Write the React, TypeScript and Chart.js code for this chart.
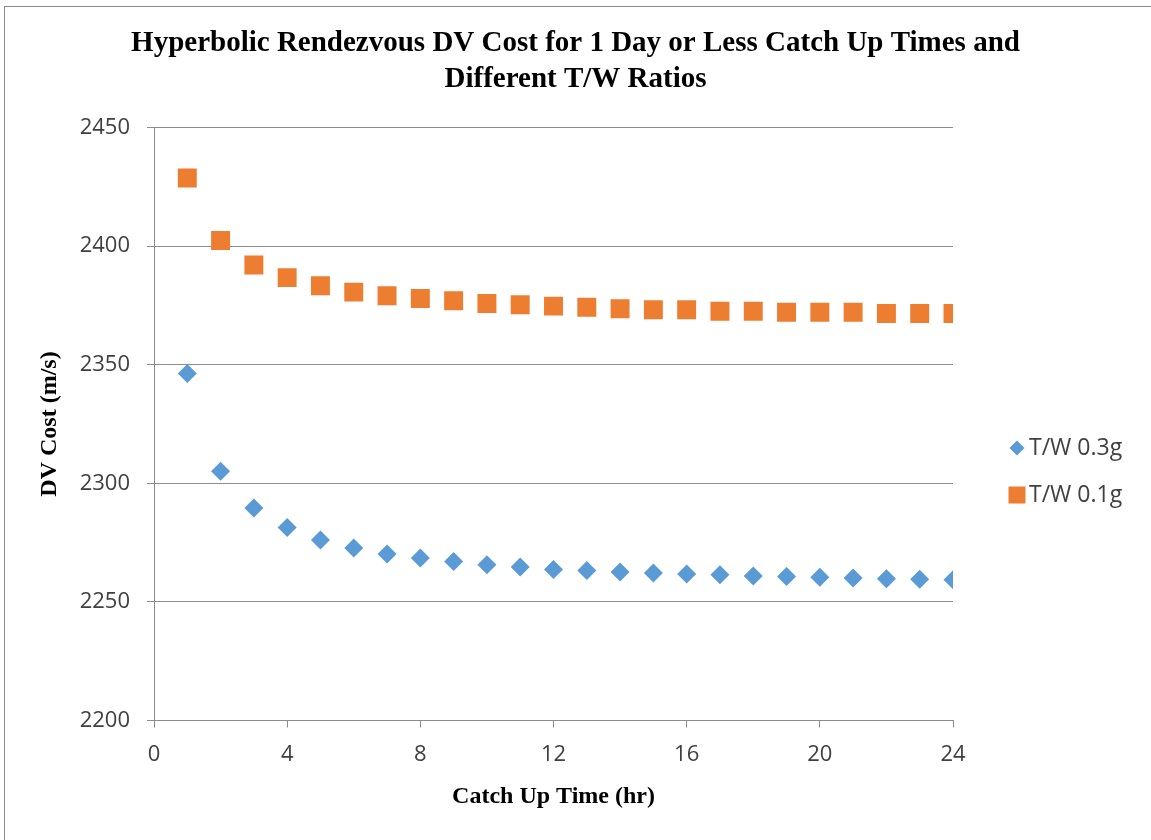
import React, { useEffect, useRef } from "react";
import { Chart, registerables } from "chart.js";

Chart.register(...registerables);

const catchUpHours = [1, 2, 3, 4, 5, 6, 7, 8, 9, 10, 11, 12, 13, 14, 15, 16, 17, 18, 19, 20, 21, 22, 23, 24];
const costTW03 = [2346.3, 2305.1, 2289.6, 2281.4, 2276.1, 2272.7, 2270.2, 2268.5, 2267.0, 2265.7, 2264.7, 2263.7, 2263.2, 2262.6, 2262.2, 2261.8, 2261.4, 2260.9, 2260.7, 2260.4, 2260.1, 2259.8, 2259.6, 2259.3];
const costTW01 = [2428.7, 2402.4, 2392.0, 2386.7, 2383.3, 2380.6, 2379.1, 2377.9, 2377.0, 2375.8, 2375.3, 2374.7, 2374.2, 2373.6, 2373.2, 2373.2, 2372.5, 2372.5, 2372.1, 2372.1, 2372.1, 2371.6, 2371.6, 2371.6];
const seriesLabels = ["T/W 0.3g", "T/W 0.1g"];
const titleLines = ["Hyperbolic Rendezvous DV Cost for 1 Day or Less Catch Up Times and", "Different T/W Ratios"];
const xTitle = "Catch Up Time (hr)";
const yTitle = "DV Cost (m/s)";

const BLUE = "#5B9BD5";
const ORANGE = "#ED7D31";
const GRID = "#8c8c8c";
const TEXT = "#404040";
const SANS = "'Open Sans', sans-serif";
const SERIF = "'Liberation Serif', 'Times New Roman', serif";

const frame = {
  id: "frame",
  beforeDraw(chart: any) {
    const ctx = chart.ctx;
    ctx.save();
    ctx.fillStyle = "#ffffff";
    ctx.fillRect(0, 0, chart.width, chart.height);
    ctx.strokeStyle = "#8a8a8a";
    ctx.lineWidth = 1;
    ctx.strokeRect(4.5, 6.5, chart.width + 10, chart.height + 10);
    ctx.restore();
  },
};

const sideLegend = {
  id: "sideLegend",
  afterDraw(chart: any) {
    const ctx = chart.ctx;
    const area = chart.chartArea;
    const x0 = area.right + 64;
    const y0 = area.top + 320.5;
    const gap = 47;
    ctx.save();
    chart.data.datasets.forEach((ds: any, i: number) => {
      const cy = y0 + i * gap;
      ctx.fillStyle = ds.backgroundColor;
      ctx.beginPath();
      if (ds.pointStyle === "rectRot") {
        const r = 7.5;
        ctx.moveTo(x0, cy - r);
        ctx.lineTo(x0 + r, cy);
        ctx.lineTo(x0, cy + r);
        ctx.lineTo(x0 - r, cy);
        ctx.closePath();
      } else {
        const s = 8.5;
        ctx.rect(x0 - s, cy - s, 2 * s, 2 * s);
      }
      ctx.fill();
      ctx.fillStyle = TEXT;
      ctx.font = `23px ${SANS}`;
      ctx.textAlign = "left";
      ctx.textBaseline = "middle";
      ctx.fillText(ds.label, x0 + 12, cy);
    });
    ctx.restore();
  },
};

export default function App() {
  const ref = useRef<HTMLCanvasElement | null>(null);

  useEffect(() => {
    if (!ref.current) return;
    const chart = new Chart(ref.current, {
      type: "scatter",
      data: {
        datasets: [
          {
            label: seriesLabels[0],
            data: catchUpHours.map((h, i) => ({ x: h, y: costTW03[i] })),
            backgroundColor: BLUE,
            borderColor: BLUE,
            borderWidth: 0,
            pointStyle: "rectRot",
            pointRadius: 9.5,
            pointHoverRadius: 9.5,
          },
          {
            label: seriesLabels[1],
            data: catchUpHours.map((h, i) => ({ x: h, y: costTW01[i] })),
            backgroundColor: ORANGE,
            borderColor: ORANGE,
            borderWidth: 0,
            pointStyle: "rect",
            pointRadius: 13.4,
            pointHoverRadius: 13.4,
          },
        ],
      },
      options: {
        animation: false,
        responsive: false,
        maintainAspectRatio: false,
        events: [],
        layout: { padding: { left: 0, right: 0, top: 0, bottom: 0 } },
        plugins: {
          legend: { display: false },
          tooltip: { enabled: false },
          title: {
            display: true,
            text: titleLines,
            color: "#000000",
            font: { family: SERIF, size: 29, weight: "bold", lineHeight: 36 / 29 },
            padding: { top: 26, bottom: 29.5 },
          },
        },
        scales: {
          x: {
            type: "linear",
            min: 0,
            max: 24,
            afterFit: (s: any) => { s.height = 119.5; },
            ticks: {
              stepSize: 4,
              color: TEXT,
              font: { family: SANS, size: 22 },
              padding: 14,
              callback: (v: any) => String(v),
            },
            grid: { drawOnChartArea: false, drawTicks: true, tickLength: 7, color: GRID },
            border: { display: true, color: GRID, width: 1 },
            title: {
              display: true,
              text: xTitle,
              color: "#000000",
              font: { family: SERIF, size: 24, weight: "bold", lineHeight: 1.2 },
              padding: { top: 0, bottom: 28.6 },
            },
          },
          y: {
            type: "linear",
            position: "left",
            min: 2200,
            max: 2450,
            afterFit: (s: any) => { s.width = 154; },
            ticks: {
              stepSize: 50,
              color: TEXT,
              font: { family: SANS, size: 22 },
              padding: 17,
              callback: (v: any) => String(v),
            },
            grid: { drawTicks: true, tickLength: 7, color: GRID, lineWidth: 1 },
            border: { display: true, color: GRID, width: 1 },
            title: {
              display: true,
              text: yTitle,
              color: "#000000",
              font: { family: SERIF, size: 24, weight: "bold", lineHeight: 1.2 },
              padding: { top: 35.6, bottom: 0 },
            },
          },
          legendSpace: {
            type: "linear",
            position: "right",
            display: true,
            min: 0,
            max: 1,
            afterFit: (s: any) => { s.width = 198; },
            ticks: { display: false },
            grid: { display: false, drawTicks: false },
            border: { display: false },
          },
        },
      },
      plugins: [frame, sideLegend],
    });
    return () => chart.destroy();
  }, []);

  return (
    <div style={{ position: "absolute", left: 0, top: 0, width: 1151, height: 840 }}>
      <canvas ref={ref} width={1151} height={840} style={{ width: 1151, height: 840, display: "block" }} />
    </div>
  );
}
